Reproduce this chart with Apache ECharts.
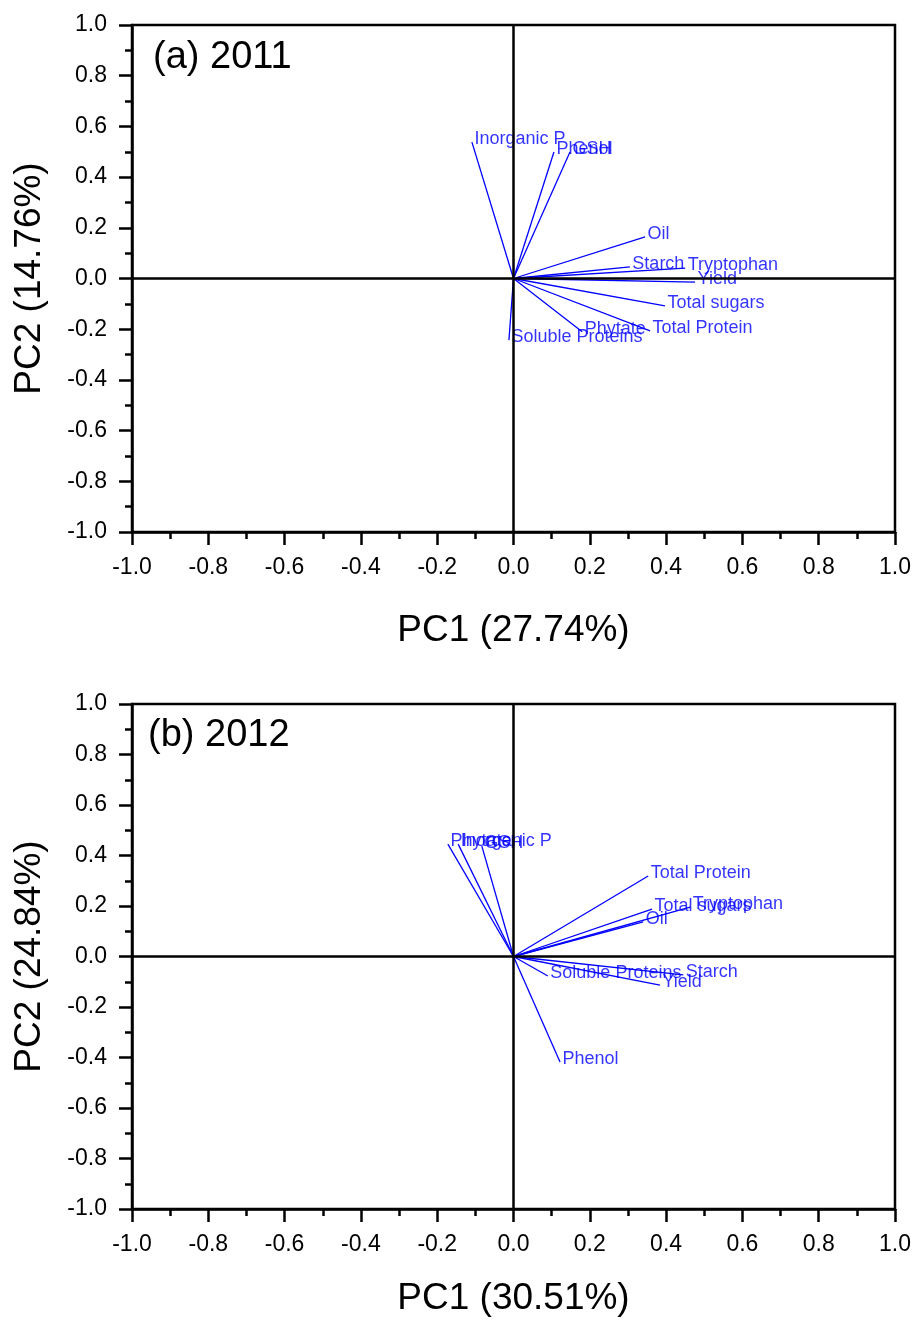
<!DOCTYPE html>
<html>
<head>
<meta charset="utf-8">
<script src="https://cdn.jsdelivr.net/npm/echarts@6/dist/echarts.min.js"></script>
<style>
  html, body { margin: 0; padding: 0; background: #fff; }
  #main { width: 916px; height: 1320px; }
</style>
</head>
<body>
<div id="main"></div>
<script>
// 2011 loadings
var vars2011 = ['Inorganic P', 'Phenol', 'GSH', 'Oil', 'Starch', 'Tryptophan', 'Yield', 'Total sugars', 'Total Protein', 'Phytate', 'Soluble Proteins'];
var pc1_2011 = [-0.109, 0.106, 0.148, 0.345, 0.305, 0.45, 0.476, 0.397, 0.358, 0.18, -0.012];
var pc2_2011 = [0.538, 0.499, 0.499, 0.164, 0.046, 0.041, -0.014, -0.108, -0.207, -0.21, -0.243];

// 2012 loadings
var vars2012 = ['Phytate', 'Inorganic P', 'GSH', 'Total Protein', 'Tryptophan', 'Total sugars', 'Oil', 'Soluble Proteins', 'Starch', 'Yield', 'Phenol'];
var pc1_2012 = [-0.172, -0.145, -0.083, 0.353, 0.463, 0.363, 0.34, 0.09, 0.445, 0.384, 0.122];
var pc2_2012 = [0.445, 0.445, 0.437, 0.319, 0.196, 0.188, 0.137, -0.077, -0.073, -0.113, -0.418];

var ticks = [-1.0, -0.8, -0.6, -0.4, -0.2, 0.0, 0.2, 0.4, 0.6, 0.8, 1.0];
var panels = ['(a) 2011', '(b) 2012'];
var xNames = ['PC1 (27.74%)', 'PC1 (30.51%)'];
var yNames = ['PC2 (14.76%)', 'PC2 (24.84%)'];

var font = "'Liberation Sans', Arial, sans-serif";
var chart = echarts.init(document.getElementById('main'));

function makeAxis(dim, idx, gap) {
    return {
        type: 'value',
        gridIndex: idx,
        min: ticks[0],
        max: ticks[ticks.length - 1],
        interval: 0.2,
        name: dim === 'x' ? xNames[idx] : yNames[idx],
        nameLocation: 'middle',
        nameGap: gap,
        nameTextStyle: { fontSize: 37, color: '#000', fontFamily: font },
        axisLine: { show: true, onZero: false, lineStyle: { color: '#000', width: 2.5 } },
        axisTick: { show: true, inside: false, length: 13, lineStyle: { color: '#000', width: 2.5 } },
        minorTick: { show: true, splitNumber: 2, length: 7, lineStyle: { color: '#000', width: 2.5 } },
        splitLine: { show: false },
        axisLabel: {
            fontSize: 23, color: '#000', fontFamily: font,
            margin: dim === 'x' ? 24 : 25,
            formatter: function (v) { return v.toFixed(1); }
        }
    };
}

function vectorSeries(names, xs, ys, idx) {
    var segs = [];
    var pts = [];
    for (var i = 0; i < names.length; i++) {
        segs.push({ coords: [[0, 0], [xs[i], ys[i]]] });
        pts.push({ name: names[i], value: [xs[i], ys[i]] });
    }
    return [
        {
            type: 'lines',
            coordinateSystem: 'cartesian2d',
            xAxisIndex: idx,
            yAxisIndex: idx,
            silent: true,
            symbol: 'none',
            lineStyle: { color: '#0000ff', width: 1.3, opacity: 1 },
            data: segs
        },
        {
            type: 'scatter',
            xAxisIndex: idx,
            yAxisIndex: idx,
            symbolSize: 1,
            itemStyle: { color: 'rgba(0,0,0,0)' },
            label: {
                show: true,
                position: 'right',
                distance: 2,
                offset: [0, -3],
                color: '#0000ff',
                fontSize: 18,
                fontFamily: font,
                formatter: function (p) { return p.name; }
            },
            markLine: {
                silent: true,
                symbol: 'none',
                label: { show: false },
                lineStyle: { color: '#000', width: 2.5, type: 'solid' },
                data: [{ xAxis: 0 }, { yAxis: 0 }]
            },
            data: pts
        }
    ];
}

var option = {
    animation: false,
    backgroundColor: '#fff',
    title: [
        { text: panels[0], left: 148, top: 34, textStyle: { fontSize: 38, fontWeight: 'normal', color: '#000', fontFamily: font } },
        { text: panels[1], left: 143, top: 712, textStyle: { fontSize: 38, fontWeight: 'normal', color: '#000', fontFamily: font } }
    ],
    grid: [
        { left: 132, top: 25, width: 763, height: 507, outerBoundsMode: 'none', containLabel: false, show: true, borderColor: '#000', borderWidth: 2.5, backgroundColor: 'rgba(0,0,0,0)' },
        { left: 132, top: 704, width: 763, height: 505, outerBoundsMode: 'none', containLabel: false, show: true, borderColor: '#000', borderWidth: 2.5, backgroundColor: 'rgba(0,0,0,0)' }
    ],
    xAxis: [makeAxis('x', 0, 80), makeAxis('x', 1, 71)],
    yAxis: [makeAxis('y', 0, 84), makeAxis('y', 1, 84)],
    series: vectorSeries(vars2011, pc1_2011, pc2_2011, 0)
        .concat(vectorSeries(vars2012, pc1_2012, pc2_2012, 1))
};

chart.setOption(option);
</script>
</body>
</html>
